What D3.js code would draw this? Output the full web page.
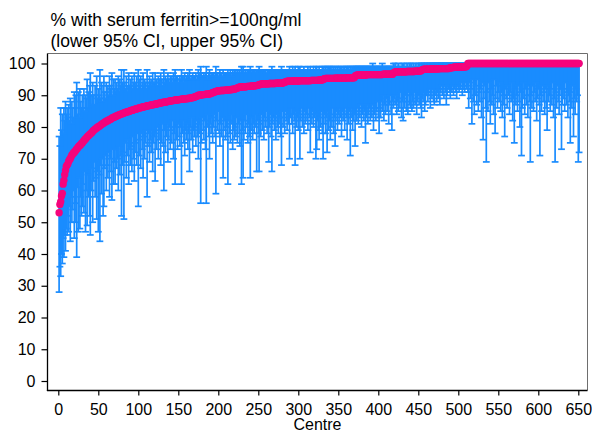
<!DOCTYPE html>
<html><head><meta charset="utf-8">
<script src="https://cdn.jsdelivr.net/npm/d3@7"></script>
<style>body{margin:0;background:#fff}svg{display:block}text{font-family:"Liberation Sans",Arial,sans-serif;fill:#000}</style>
</head><body><svg id="c" width="592" height="432"></svg>
<script>
// % with serum ferritin >= 100 ng/ml, per centre (sorted)
const pct = [
53.0,55.6,56.5,58.3,59.1,62.0,63.2,65.0,66.3,67.6,
68.0,68.4,69.2,69.7,70.0,70.6,71.2,71.4,71.9,72.0,
72.4,72.7,73.1,73.3,73.7,74.0,74.2,74.4,74.8,75.0,
75.4,75.7,76.0,76.2,76.5,76.9,77.1,77.3,77.6,77.8,
78.0,78.3,78.6,78.9,79.1,79.3,79.5,79.7,80.0,80.0,
80.2,80.4,80.6,80.8,81.0,81.1,81.3,81.5,81.6,81.8,
81.9,82.0,82.2,82.3,82.4,82.6,82.8,82.9,83.0,83.1,
83.3,83.3,83.5,83.6,83.7,83.8,83.9,84.0,84.1,84.2,
84.3,84.4,84.5,84.6,84.7,84.8,84.8,84.9,85.0,85.1,
85.2,85.3,85.3,85.4,85.5,85.6,85.7,85.7,85.8,85.9,
86.0,86.0,86.1,86.2,86.2,86.3,86.4,86.4,86.5,86.6,
86.6,86.7,86.7,86.8,86.9,86.9,87.0,87.0,87.1,87.1,
87.2,87.2,87.3,87.3,87.4,87.5,87.5,87.6,87.6,87.7,
87.7,87.8,87.8,87.9,87.9,88.0,88.0,88.1,88.1,88.2,
88.2,88.3,88.3,88.4,88.4,88.5,88.5,88.5,88.6,88.6,
88.6,88.7,88.7,88.7,88.8,88.8,88.8,88.9,88.9,88.9,
89.0,89.0,89.0,89.1,89.1,89.2,89.2,89.3,89.3,89.4,
89.5,89.6,89.7,89.8,90.0,90.0,90.0,90.1,90.1,90.2,
90.2,90.2,90.2,90.3,90.3,90.3,90.3,90.4,90.4,90.5,
90.6,90.7,90.8,90.9,91.0,91.1,91.2,91.3,91.3,91.4,
91.4,91.4,91.5,91.5,91.5,91.5,91.5,91.6,91.6,91.6,
91.6,91.7,91.7,91.7,91.7,91.8,91.8,91.8,91.9,91.9,
92.0,92.1,92.2,92.3,92.4,92.5,92.6,92.6,92.6,92.7,
92.7,92.7,92.7,92.7,92.7,92.8,92.8,92.8,92.8,92.8,
92.9,92.9,92.9,92.9,93.0,93.0,93.0,93.1,93.1,93.2,
93.3,93.4,93.5,93.5,93.6,93.6,93.6,93.6,93.6,93.6,
93.6,93.6,93.6,93.7,93.7,93.7,93.7,93.7,93.7,93.7,
93.7,93.8,93.8,93.8,93.8,93.8,93.8,93.8,93.8,93.8,
93.9,94.0,94.1,94.2,94.3,94.4,94.4,94.4,94.4,94.4,
94.4,94.4,94.5,94.5,94.5,94.5,94.5,94.5,94.5,94.5,
94.5,94.6,94.6,94.6,94.6,94.6,94.6,94.6,94.6,94.6,
94.6,94.6,94.6,94.6,94.6,94.7,94.7,94.7,94.7,94.7,
94.7,94.7,94.7,94.7,94.7,94.8,94.8,94.8,94.8,94.8,
95.0,95.1,95.2,95.3,95.3,95.3,95.3,95.3,95.3,95.3,
95.3,95.3,95.3,95.3,95.3,95.4,95.4,95.4,95.4,95.4,
95.4,95.4,95.4,95.4,95.4,95.4,95.4,95.4,95.4,95.4,
95.5,95.5,95.5,95.5,95.5,95.5,95.5,95.5,95.5,95.5,
96.0,96.2,96.3,96.4,96.4,96.4,96.4,96.4,96.4,96.4,
96.4,96.4,96.4,96.4,96.4,96.5,96.5,96.5,96.5,96.5,
96.5,96.5,96.5,96.5,96.5,96.5,96.5,96.5,96.5,96.5,
96.5,96.5,96.5,96.5,96.5,96.6,96.6,96.6,96.6,96.6,
96.6,96.6,96.6,96.6,96.6,96.6,96.6,96.6,97.0,97.2,
97.3,97.4,97.4,97.4,97.4,97.4,97.4,97.4,97.4,97.4,
97.4,97.4,97.4,97.4,97.4,97.5,97.5,97.5,97.5,97.5,
97.5,97.5,97.5,97.5,97.5,97.6,97.6,97.6,97.6,97.6,
97.6,97.6,97.6,97.9,98.0,98.1,98.2,98.2,98.2,98.2,
98.2,98.2,98.2,98.2,98.2,98.3,98.3,98.3,98.3,98.3,
98.3,98.3,98.3,98.3,98.3,98.4,98.4,98.4,98.4,98.4,
98.4,98.4,98.4,98.4,98.4,98.4,98.4,98.4,98.6,98.6,
98.7,98.7,98.7,98.8,98.8,98.8,98.8,98.8,98.9,98.9,
98.9,98.9,98.9,98.9,98.9,98.9,99.0,99.0,99.0,99.0,
99.3,100,100,100,100,100,100,100,100,100,
100,100,100,100,100,100,100,100,100,100,
100,100,100,100,100,100,100,100,100,100,
100,100,100,100,100,100,100,100,100,100,
100,100,100,100,100,100,100,100,100,100,
100,100,100,100,100,100,100,100,100,100,
100,100,100,100,100,100,100,100,100,100,
100,100,100,100,100,100,100,100,100,100,
100,100,100,100,100,100,100,100,100,100,
100,100,100,100,100,100,100,100,100,100,
100,100,100,100,100,100,100,100,100,100,
100,100,100,100,100,100,100,100,100,100,
100,100,100,100,100,100,100,100,100,100,
100,100,100,100,100,100,100,100,100,100,
100
];
const lower = [
28,36,33,40,37,45,39,46,41,48,
46,52,47,55,44,58,50,54,60,45,
56,50,39,61,47,64,48,58,52,55,
62,53,66,47,60,49,65,58,52,46,
60,67,50,63,69,58,64,51,66,47,
65,44,68,59,70,52,55,67,71,60,
68,64,72,58,70,66,57,73,62,69,
62,73,67,70,60,74,65,71,52,68,
72,51,69,75,64,71,76,62,73,68,
74,66,77,70,63,75,72,68,78,55,
71,76,67,78,73,64,77,70,75,79,
58,74,78,69,76,72,79,66,75,77,
63,78,73,80,70,76,79,68,75,81,
74,60,79,72,77,81,69,76,80,73,
79,75,82,70,78,62,80,76,73,81,
77,74,80,62,78,82,75,71,79,76,
81,73,78,66,80,76,83,72,79,77,
80,74,82,77,70,81,78,56,75,83,
79,76,82,73,56,80,84,77,70,81,
78,83,75,80,84,77,59,82,79,85,
78,74,81,77,83,64,79,82,76,80,
77,62,82,78,75,81,84,73,79,76,
80,77,83,75,81,78,74,82,62,79,
64,76,82,78,84,80,75,81,77,64,
79,83,76,81,78,84,80,66,82,78,
66,81,77,84,79,82,76,83,80,85,
78,82,69,80,84,77,66,81,83,79,
82,76,84,80,78,83,81,77,68,85,
80,83,78,85,82,79,84,81,70,83,
86,81,78,84,82,68,85,80,83,79,
84,70,82,86,80,83,78,85,81,84,
82,79,86,83,72,84,81,85,80,83,
84,70,73,82,79,76,83,80,85,78,
70,81,84,78,83,72,85,79,82,76,
84,80,86,78,83,74,82,85,79,84,
81,86,83,77,85,82,84,79,86,83,
76,84,81,85,71,83,86,79,82,84,
74,84,82,86,81,85,83,87,80,84,
86,82,85,75,83,87,81,84,86,82,
85,83,87,79,84,86,82,85,88,83,
78,86,83,88,85,90,82,87,84,89,
85,88,81,87,90,84,79,88,86,89,
87,90,84,88,85,89,86,91,83,88,
82,89,86,90,85,88,84,91,87,86,
90,85,88,86,91,87,89,84,88,90,
87,90,86,83,89,88,91,85,87,90,
91,88,90,92,86,91,89,92,88,87,
90,92,88,91,89,92,87,91,93,90,
92,89,93,91,87,90,93,92,91,89,
92,91,93,90,92,93,91,89,93,92,
91,93,92,94,90,92,93,91,94,92,
93,91,86,94,89,92,81,95,88,84,
90,93,87,95,85,91,88,92,83,94,
76,89,93,86,69,91,85,94,88,81,
92,87,90,84,95,78,89,93,86,91,
88,94,85,91,83,90,87,77,92,89,
86,93,90,84,91,88,94,82,89,75,
92,87,90,85,93,88,80,91,71,86,
94,89,84,92,87,90,83,93,88,69,
90,86,93,85,91,88,94,82,89,92,
87,71,90,85,93,88,91,84,92,86,
79,93,88,90,85,92,87,94,83,89,
69,91,86,93,88,84,90,92,73,87,
92,89,85,94,87,91,83,90,88,75,
91,86,93,77,89,84,92,88,90,69,
72
];
const upper = [
77,74,86,79,84,78,86,82,88,84,
86,83,87,82,89,81,88,86,83,91,
86,90,94,84,91,83,92,88,86,90,
86,92,85,90,89,95,86,91,93,97,
90,87,94,90,87,93,90,96,89,92,
90,98,89,94,88,93,96,91,89,94,
91,93,90,96,92,93,97,90,95,92,
95,91,94,92,96,91,95,93,98,94,
93,98,94,92,96,93,91,97,93,95,
93,96,92,94,97,93,94,96,92,98,
95,93,96,92,94,97,93,95,94,92,
98,94,93,96,94,95,93,97,94,94,
97,94,95,93,96,95,94,97,95,93,
95,98,94,96,95,94,97,95,94,96,
95,96,94,97,95,98,95,96,96,94,
95,96,95,98,96,94,96,97,95,96,
95,97,96,98,95,96,95,97,96,96,
96,97,95,96,98,96,97,99,97,96,
96,97,96,97,99,96,95,97,98,96,
97,96,97,97,96,97,99,97,97,96,
97,98,97,97,96,98,97,97,97,97,
97,98,97,97,98,97,96,98,97,98,
97,98,97,98,97,98,98,97,99,98,
99,98,97,98,97,98,98,98,98,99,
98,97,98,98,98,97,98,98,98,98,
99,98,98,98,98,98,98,98,98,97,
98,98,98,98,98,98,99,98,98,98,
98,98,98,98,98,98,98,98,99,98,
98,98,98,98,98,98,98,98,99,98,
98,98,99,98,98,99,98,98,98,99,
98,99,98,98,98,98,99,98,98,98,
98,99,98,98,99,98,98,98,99,98,
98,99,99,98,98,99,98,98,98,99,
99,99,98,99,98,99,98,99,99,99,
98,99,98,99,98,99,99,98,99,98,
99,98,99,99,98,99,98,99,98,99,
99,99,99,98,99,99,98,99,99,99,
99,99,99,99,99,99,99,99,99,99,
99,99,99,99,99,99,99,99,99,99,
99,99,100,99,99,99,99,99,99,99,
99,99,99,99,100,99,99,99,99,99,
99,99,99,99,99,99,99,99,100,99,
100,99,99,99,100,99,99,99,99,100,
99,100,99,99,99,100,99,99,100,99,
100,99,99,100,99,99,100,99,99,100,
99,100,99,100,100,99,100,100,99,100,
100,100,99,100,100,100,99,100,100,100,
100,100,100,100,100,100,100,100,100,100,
100,100,100,100,100,100,100,100,100,100,
100,100,100,100,100,100,100,100,100,100,
100,100,100,100,100,100,100,100,100,100,
100,100,100,100,100,100,100,100,100,100,
100,100,100,100,100,100,100,100,100,100,
100,100,100,100,100,100,100,100,100,100,
100,100,100,100,100,100,100,100,100,100,
100,100,100,100,100,100,100,100,100,100,
100,100,100,100,100,100,100,100,100,100,
100,100,100,100,100,100,100,100,100,100,
100,100,100,100,100,100,100,100,100,100,
100,100,100,100,100,100,100,100,100,100,
100,100,100,100,100,100,100,100,100,100,
100,100,100,100,100,100,100,100,100,100,
100,100,100,100,100,100,100,100,100,100,
100,100,100,100,100,100,100,100,100,100,
100,100,100,100,100,100,100,100,100,100,
100
];
const centres = pct.map((d, i) => i + 1);
const xTicks = [0,50,100,150,200,250,300,350,400,450,500,550,600,650];
const yTicks = [0,10,20,30,40,50,60,70,80,90,100];
const titleLines = ["% with serum ferritin>=100ng/ml", "(lower 95% CI, upper 95% CI)"];
const xTitle = "Centre";

const data = centres.map((c, i) => ({c, p: pct[i], lo: lower[i], hi: upper[i]}));

const svg = d3.select("#c");
svg.append("rect").attr("width", 592).attr("height", 432).attr("fill", "#fff");

const frame = {l: 47.5, r: 587.5, t: 53.5, b: 390.5};
const x = d3.scaleLinear().domain([0, 650]).range([58.3, 578.3]);
const y = d3.scaleLinear().domain([0, 100]).range([381, 63.5]);

// frame: top and right in grey
svg.append("line").attr("x1", frame.l).attr("x2", frame.r).attr("y1", frame.t).attr("y2", frame.t)
  .attr("stroke", "#6e6e6e").attr("stroke-width", 1);
svg.append("line").attr("x1", frame.r).attr("x2", frame.r).attr("y1", frame.t).attr("y2", frame.b)
  .attr("stroke", "#6e6e6e").attr("stroke-width", 1);

// error bars
const blue = "#1a8cff";
const bars = svg.append("g").attr("stroke", blue).attr("stroke-width", 1.7).attr("fill", "none");
const capW = 3.4;
bars.selectAll("line.v").data(data).join("line").attr("class", "v")
  .attr("x1", d => x(d.c)).attr("x2", d => x(d.c))
  .attr("y1", d => y(d.lo)).attr("y2", d => y(d.hi));
bars.selectAll("line.lo").data(data).join("line").attr("class", "lo")
  .attr("x1", d => x(d.c) - capW).attr("x2", d => x(d.c) + capW)
  .attr("y1", d => y(d.lo)).attr("y2", d => y(d.lo));
bars.selectAll("line.hi").data(data).join("line").attr("class", "hi")
  .attr("x1", d => x(d.c) - capW).attr("x2", d => x(d.c) + capW)
  .attr("y1", d => y(d.hi)).attr("y2", d => y(d.hi));

// points
svg.append("g").attr("fill", "#f5047c").selectAll("circle").data(data).join("circle")
  .attr("cx", d => x(d.c)).attr("cy", d => y(d.p)).attr("r", 3.7);

// axes
const yAxis = d3.axisLeft(y).tickValues(yTicks).tickSize(6).tickPadding(6).tickFormat(d3.format("d"));
const gy = svg.append("g").attr("transform", `translate(${frame.l},0)`).call(yAxis);
gy.select(".domain").remove();
gy.selectAll(".tick line").attr("stroke", "#000").attr("stroke-width", 1.2);
gy.selectAll(".tick text").attr("font-size", 16).attr("font-family", '"Liberation Sans",Arial,sans-serif').attr("fill", "#000");

const xAxis = d3.axisBottom(x).tickValues(xTicks).tickSize(5).tickPadding(8.5).tickFormat(d3.format("d"));
const gx = svg.append("g").attr("transform", `translate(0,${frame.b})`).call(xAxis);
gx.select(".domain").remove();
gx.selectAll(".tick line").attr("stroke", "#000").attr("stroke-width", 1.2);
gx.selectAll(".tick text").attr("font-size", 16).attr("font-family", '"Liberation Sans",Arial,sans-serif').attr("fill", "#000");

// axis lines (black)
svg.append("line").attr("x1", frame.l).attr("x2", frame.l).attr("y1", frame.t).attr("y2", frame.b + 0.6)
  .attr("stroke", "#000").attr("stroke-width", 1.3);
svg.append("line").attr("x1", frame.l - 0.6).attr("x2", frame.r).attr("y1", frame.b).attr("y2", frame.b)
  .attr("stroke", "#000").attr("stroke-width", 1.3);

// titles
svg.selectAll("text.title").data(titleLines).join("text").attr("class", "title")
  .attr("x", 50.5).attr("y", (d, i) => 26 + i * 21)
  .attr("font-size", 17.5).text(d => d);
svg.append("text").attr("x", (frame.l + frame.r) / 2).attr("y", 430)
  .attr("text-anchor", "middle").attr("font-size", 16).text(xTitle);
</script></body></html>
